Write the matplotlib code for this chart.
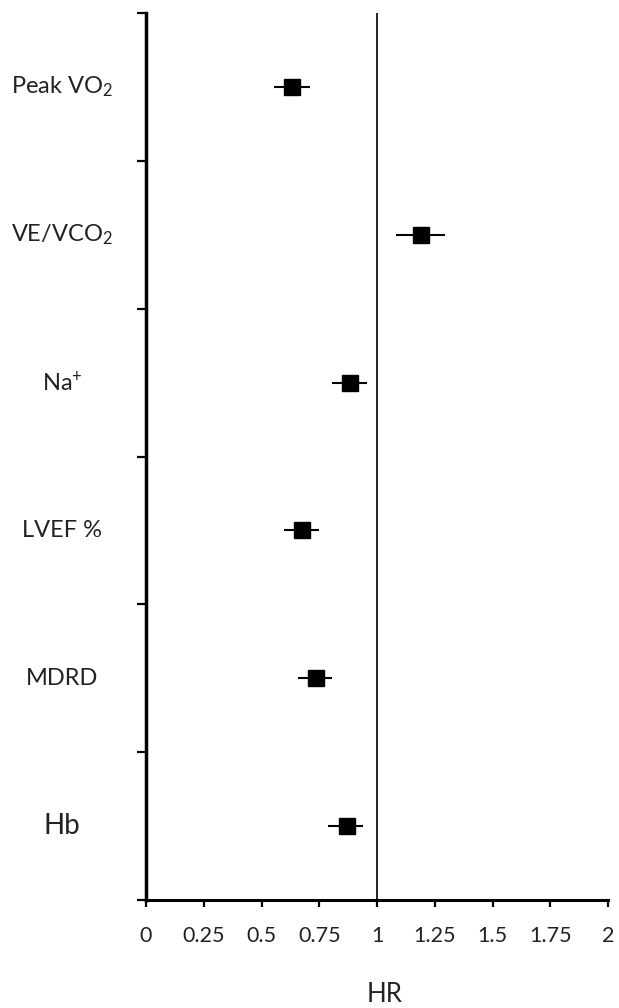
# FOREST PLOT - HAZARD RATIOS
# LIBRERIAS
import numpy as np
import matplotlib
matplotlib.use("Agg")
import matplotlib.pyplot as plt

# DATOS
variables = [r"Peak VO$_2$", r"VE/VCO$_2$", r"Na$^{+}$", "LVEF %", "MDRD", "Hb"]
hr = [0.631, 1.19, 0.884, 0.676, 0.735, 0.871]
ic_bajo = [0.552, 1.083, 0.804, 0.597, 0.656, 0.786]
ic_alto = [0.710, 1.294, 0.957, 0.748, 0.806, 0.941]
ticks_x = [0, 0.25, 0.5, 0.75, 1, 1.25, 1.5, 1.75, 2]
etiquetas_x = ["0", "0.25", "0.5", "0.75", "1", "1.25", "1.5", "1.75", "2"]

# FUENTES
plt.rcParams["font.family"] = ["Lato", "DejaVu Sans"]
plt.rcParams["mathtext.fontset"] = "custom"
plt.rcParams["mathtext.rm"] = "Lato"
plt.rcParams["mathtext.it"] = "Lato:italic"
plt.rcParams["mathtext.bf"] = "Lato:bold"
plt.rcParams["mathtext.default"] = "rm"

# FIGURA
fig = plt.figure(figsize=(6.19, 10.08), dpi=100)
ax = fig.add_axes([146 / 619, 1 - 900 / 1008, 462 / 619, 887 / 1008])

n = len(variables)
# posicion vertical: primera variable arriba
y = np.arange(n)[::-1] + 0.5

hr = np.array(hr)
err = [hr - np.array(ic_bajo), np.array(ic_alto) - hr]

# LINEA DE REFERENCIA HR = 1
ax.axvline(1, color="#222222", linewidth=1.4, zorder=1)

# PUNTOS E INTERVALOS
ax.errorbar(
    hr,
    y,
    xerr=err,
    fmt="s",
    color="black",
    markersize=11.5,
    elinewidth=1.5,
    capsize=0,
    zorder=3
)

# EJES
ax.set_xlim(0, 2)
ax.set_ylim(0, n)
ax.set_xticks(ticks_x)
ax.set_xticklabels(etiquetas_x)
ax.set_yticks(np.arange(n + 1))
ax.set_yticklabels([])

for lado in ["top", "right"]:
    ax.spines[lado].set_visible(False)
ax.spines["left"].set_linewidth(2.5)
ax.spines["bottom"].set_linewidth(2.2)

ax.tick_params(axis="y", direction="out", length=6.5, width=1.6)
ax.tick_params(axis="x", direction="out", length=5, width=1.6,
               labelsize=15.5, pad=14, labelcolor="#222222")

# ETIQUETAS DE VARIABLES
for i, nombre in enumerate(variables):
    tam = 20 if nombre == "Hb" else 17
    ax.text(
        (62 - 146) / 462,
        y[i],
        nombre,
        transform=ax.get_yaxis_transform(),
        ha="center",
        va="center",
        fontsize=tam,
        color="#222222"
    )

# TITULO EJE X
ax.set_xlabel("HR", fontsize=18.5, color="#222222")
ax.xaxis.label.set_va("center")
ax.xaxis.set_label_coords((384.5 - 146) / 462, (900 - 994) / 887)

# GUARDAR
fig.savefig("out.png", dpi=100)
